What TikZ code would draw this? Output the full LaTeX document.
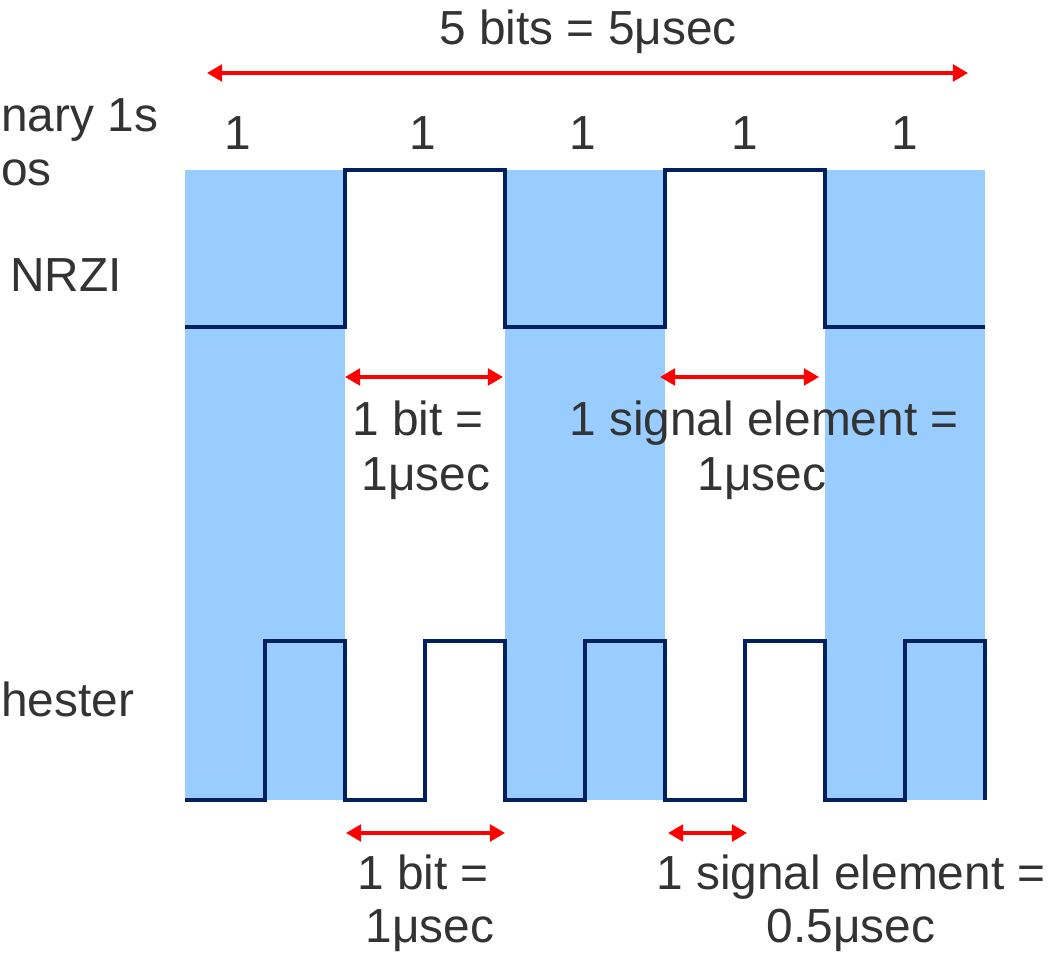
\documentclass[tikz,border=0pt]{standalone}
\usepackage{fontspec}
\setmainfont{Liberation Sans}
\usepackage{tikz}
\usetikzlibrary{arrows.meta}
\definecolor{Band}{HTML}{99CCFF}
\definecolor{Wave}{HTML}{002060}
\definecolor{Span}{HTML}{FF0000}
\definecolor{Ink}{HTML}{333333}

\begin{document}
\begin{tikzpicture}[x=0.025cm, y=-0.025cm,
  every node/.style={font=\fontsize{34}{40}\selectfont, text=Ink, inner sep=0pt, anchor=base},
  wave/.style={Wave, line width=2.2pt, line join=miter},
  dimarrow/.style={{Triangle[length=3.8mm,width=4.2mm]}-{Triangle[length=3.8mm,width=4.2mm]}, Span, line width=2.4pt}]
  \path[use as bounding box, clip] (0,0) rectangle (1048,954);

  % shaded bit cells
  \foreach \x in {185,505,825}
    \fill[Band] (\x,170) rectangle ++(160,630);

  % NRZI
  \draw[wave] (185,327) -- (345,327) -- (345,170) -- (505,170) -- (505,327)
    -- (665,327) -- (665,170) -- (825,170) -- (825,327) -- (985,327);

  % Manchester
  \draw[wave] (185,800) foreach \x in {185,345,505,665,825} {
    -- (\x+80,800) -- (\x+80,641) -- (\x+160,641) -- (\x+160,800) };

  % row labels
  \node[anchor=base west] (rowbin) at (1,131) {nary 1s};
  \node[anchor=base west] (rowbps) at (1,185) {os};
  \node (nrzi) at (66,291) {NRZI};
  \node[anchor=base west] (manch) at (1,716) {hester};

  % bits
  \node (total) at (588,44) {5 bits = 5μsec};
  \foreach \x/\n in {238/a,423/b,583/c,745/d,905/e}
    \node (bit\n) at (\x,149) {1};

  \node (nbitA) at (418,435) {1 bit =};
  \node (nbitB) at (426,490) {1μsec};
  \node (nsigA) at (764,435) {1 signal element =};
  \node (nsigB) at (762,490) {1μsec};
  \node (mbitA) at (423,889) {1 bit =};
  \node (mbitB) at (430,942) {1μsec};
  \node (msigA) at (851,889) {1 signal element =};
  \node (msigB) at (851,942) {0.5μsec};

  % spans
  \coordinate (totL) at (207,73);  \coordinate (totR) at (968,73);
  \coordinate (nbitL) at (345,377); \coordinate (nbitR) at (503,377);
  \coordinate (nsigL) at (660,377); \coordinate (nsigR) at (819,377);
  \coordinate (mbitL) at (346,833); \coordinate (mbitR) at (505,833);
  \coordinate (msigL) at (668,833); \coordinate (msigR) at (747,833);

  \draw[dimarrow] (totL) -- (totR);
  \draw[dimarrow] (nbitL) -- (nbitR);
  \draw[dimarrow] (nsigL) -- (nsigR);
  \draw[dimarrow] (mbitL) -- (mbitR);
  \draw[dimarrow] (msigL) -- (msigR);
\end{tikzpicture}
\end{document}
